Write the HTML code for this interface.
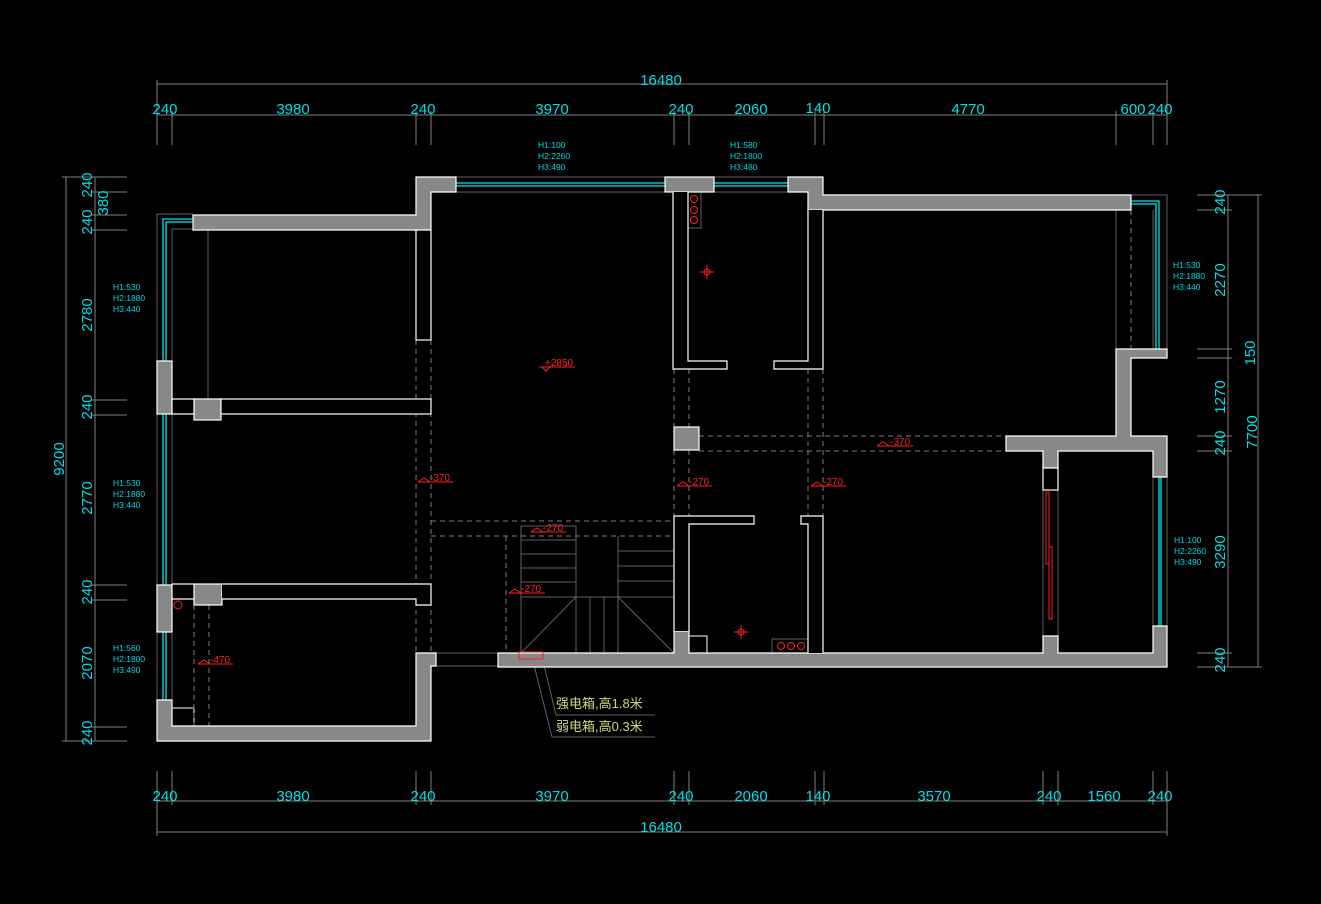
<!DOCTYPE html>
<html><head><meta charset="utf-8"><style>
html,body{margin:0;padding:0;background:#000;}
svg{display:block}
.dim{font-family:"Liberation Sans",sans-serif;font-size:15px;fill:#00e0e8}
.h{font-family:"Liberation Sans",sans-serif;font-size:8.5px;fill:#00d8e0}
.r{font-family:"Liberation Sans",sans-serif;font-size:10px;fill:#ff2020}
.cn{font-family:"Liberation Sans","Noto Sans CJK SC",sans-serif;font-size:13px;fill:#c8dc78}
</style></head><body>
<svg width="1321" height="904" viewBox="0 0 1321 904" xmlns="http://www.w3.org/2000/svg">
<rect width="1321" height="904" fill="#000"/>
<!-- TOP DIMENSIONS -->
<g stroke="#808080" stroke-width="1" fill="none">
<line x1="157" y1="84" x2="1167" y2="84"/>
<line x1="157" y1="115" x2="1167" y2="115"/>
<line x1="157" y1="80" x2="157" y2="145"/><line x1="1167" y1="80" x2="1167" y2="145"/>
<line x1="172" y1="111" x2="172" y2="145"/><line x1="416" y1="111" x2="416" y2="145"/><line x1="431" y1="111" x2="431" y2="145"/>
<line x1="674" y1="111" x2="674" y2="145"/><line x1="689" y1="111" x2="689" y2="145"/><line x1="815" y1="111" x2="815" y2="145"/>
<line x1="824" y1="111" x2="824" y2="145"/><line x1="1116" y1="111" x2="1116" y2="145"/><line x1="1153" y1="111" x2="1153" y2="145"/>
<!-- bottom -->
<line x1="157" y1="801" x2="1167" y2="801"/>
<line x1="157" y1="832" x2="1167" y2="832"/>
<line x1="157" y1="771" x2="157" y2="836"/><line x1="1167" y1="771" x2="1167" y2="836"/>
<line x1="172" y1="771" x2="172" y2="805"/><line x1="416" y1="771" x2="416" y2="805"/><line x1="431" y1="771" x2="431" y2="805"/>
<line x1="674" y1="771" x2="674" y2="805"/><line x1="689" y1="771" x2="689" y2="805"/><line x1="815" y1="771" x2="815" y2="805"/>
<line x1="824" y1="771" x2="824" y2="805"/><line x1="1043" y1="771" x2="1043" y2="805"/><line x1="1058" y1="771" x2="1058" y2="805"/>
<line x1="1153" y1="771" x2="1153" y2="805"/>
<!-- left -->
<line x1="95" y1="177" x2="95" y2="741"/>
<line x1="66" y1="177" x2="66" y2="741"/>
<line x1="62" y1="177" x2="127" y2="177"/><line x1="62" y1="741" x2="127" y2="741"/>
<line x1="91" y1="192" x2="127" y2="192"/><line x1="91" y1="215" x2="127" y2="215"/><line x1="91" y1="230" x2="127" y2="230"/>
<line x1="91" y1="400" x2="127" y2="400"/><line x1="91" y1="415" x2="127" y2="415"/><line x1="91" y1="585" x2="127" y2="585"/>
<line x1="91" y1="600" x2="127" y2="600"/><line x1="91" y1="727" x2="127" y2="727"/>
<!-- right -->
<line x1="1228" y1="195" x2="1228" y2="667"/>
<line x1="1258" y1="195" x2="1258" y2="667"/>
<line x1="1197" y1="195" x2="1262" y2="195"/><line x1="1197" y1="667" x2="1262" y2="667"/>
<line x1="1197" y1="210" x2="1232" y2="210"/><line x1="1197" y1="349" x2="1232" y2="349"/><line x1="1197" y1="358" x2="1232" y2="358"/>
<line x1="1197" y1="436" x2="1232" y2="436"/><line x1="1197" y1="451" x2="1232" y2="451"/><line x1="1197" y1="653" x2="1232" y2="653"/>
</g>
<g class="dim" text-anchor="middle">
<text x="661" y="85">16480</text>
<text x="165" y="114">240</text><text x="293" y="114">3980</text><text x="423" y="114">240</text><text x="552" y="114">3970</text>
<text x="681" y="114">240</text><text x="751" y="114">2060</text><text x="818" y="113">140</text><text x="968" y="114">4770</text>
<text x="1133" y="114">600</text><text x="1160" y="114">240</text>
<text x="165" y="801">240</text><text x="293" y="801">3980</text><text x="423" y="801">240</text><text x="552" y="801">3970</text>
<text x="681" y="801">240</text><text x="751" y="801">2060</text><text x="818" y="801">140</text><text x="934" y="801">3570</text>
<text x="1049" y="801">240</text><text x="1104" y="801">1560</text><text x="1160" y="801">240</text>
<text x="661" y="832">16480</text>
<text transform="translate(92,185) rotate(-90)">240</text>
<text transform="translate(108,203) rotate(-90)">380</text>
<text transform="translate(92,222) rotate(-90)">240</text>
<text transform="translate(92,315) rotate(-90)">2780</text>
<text transform="translate(92,407) rotate(-90)">240</text>
<text transform="translate(92,498) rotate(-90)">2770</text>
<text transform="translate(92,592) rotate(-90)">240</text>
<text transform="translate(92,663) rotate(-90)">2070</text>
<text transform="translate(92,733) rotate(-90)">240</text>
<text transform="translate(64,459) rotate(-90)">9200</text>
<text transform="translate(1225,202) rotate(-90)">240</text>
<text transform="translate(1225,280) rotate(-90)">2270</text>
<text transform="translate(1255,353) rotate(-90)">150</text>
<text transform="translate(1225,397) rotate(-90)">1270</text>
<text transform="translate(1225,443) rotate(-90)">240</text>
<text transform="translate(1257,432) rotate(-90)">7700</text>
<text transform="translate(1225,552) rotate(-90)">3290</text>
<text transform="translate(1225,660) rotate(-90)">240</text>
</g>
<!-- H labels -->
<g class="h">
<text x="538" y="148">H1:100</text><text x="538" y="159">H2:2260</text><text x="538" y="170">H3:490</text>
<text x="730" y="148">H1:580</text><text x="730" y="159">H2:1800</text><text x="730" y="170">H3:480</text>
<text x="113" y="290">H1:530</text><text x="113" y="301">H2:1880</text><text x="113" y="312">H3:440</text>
<text x="113" y="486">H1:530</text><text x="113" y="497">H2:1880</text><text x="113" y="508">H3:440</text>
<text x="113" y="651">H1:560</text><text x="113" y="662">H2:1800</text><text x="113" y="673">H3:490</text>
<text x="1173" y="268">H1:530</text><text x="1173" y="279">H2:1880</text><text x="1173" y="290">H3:440</text>
<text x="1174" y="543">H1:100</text><text x="1174" y="554">H2:2260</text><text x="1174" y="565">H3:490</text>
</g>
<!-- thin gray frame lines -->
<g stroke="#606060" stroke-width="1" fill="none">
<polyline points="193,214 157,214 157,741"/>
<polyline points="193,229 172,229 172,741"/>
<line x1="208" y1="230" x2="208" y2="399"/>
<line x1="456" y1="177" x2="665" y2="177"/><line x1="456" y1="192" x2="665" y2="192"/>
<line x1="714" y1="177" x2="788" y2="177"/><line x1="714" y1="192" x2="788" y2="192"/>
<polyline points="1131,195 1167,195 1167,349"/>
<polyline points="1116,210 1116,349"/><line x1="1153" y1="210" x2="1153" y2="349"/>
<line x1="1153" y1="477" x2="1153" y2="626"/><line x1="1167" y1="477" x2="1167" y2="626"/>
<line x1="1043" y1="490" x2="1043" y2="636"/><line x1="1058" y1="490" x2="1058" y2="636"/>
<line x1="436" y1="653" x2="498" y2="653"/><line x1="436" y1="666" x2="498" y2="666"/>
<rect x="687" y="192" width="14" height="36"/>
<rect x="772" y="639" width="36" height="14"/>
<rect x="172" y="708" width="22" height="18" stroke="#fff"/>
<rect x="689" y="636" width="18" height="17" stroke="#fff"/>
<!-- stairs -->
<rect x="521" y="526" width="55" height="127"/>
<line x1="521" y1="540" x2="576" y2="540"/><line x1="521" y1="554" x2="576" y2="554"/><line x1="521" y1="568" x2="576" y2="568"/><line x1="521" y1="582" x2="576" y2="582"/>
<line x1="521" y1="597" x2="674" y2="597"/>
<line x1="618" y1="536" x2="618" y2="653"/>
<line x1="618" y1="551" x2="674" y2="551"/><line x1="618" y1="566" x2="674" y2="566"/><line x1="618" y1="581" x2="674" y2="581"/>
<line x1="590" y1="597" x2="590" y2="653"/><line x1="604" y1="597" x2="604" y2="653"/>
<line x1="521" y1="653" x2="576" y2="597"/><line x1="618" y1="597" x2="674" y2="653"/>
<line x1="0" y1="0" x2="0" y2="0"/>
<polyline points="543,661 556,715 655,715"/><polyline points="533,661 552,737 655,737"/>
</g>
<!-- cyan windows -->
<g stroke="#00e8f0" stroke-width="1.3" fill="none">
<polyline points="193,219 163,219 163,361"/><polyline points="193,222 166,222 166,361"/>
<line x1="163" y1="414" x2="163" y2="585"/><line x1="166" y1="414" x2="166" y2="585"/>
<line x1="163" y1="632" x2="163" y2="700"/><line x1="166" y1="632" x2="166" y2="700"/>
<line x1="456" y1="183" x2="665" y2="183"/><line x1="456" y1="186" x2="665" y2="186"/>
<line x1="714" y1="183" x2="788" y2="183"/><line x1="714" y1="186" x2="788" y2="186"/>
<polyline points="1131,201 1159,201 1159,349"/><polyline points="1131,204 1156,204 1156,349"/>
<line x1="1159" y1="477" x2="1159" y2="626"/><line x1="1161" y1="477" x2="1161" y2="626"/>
</g>
<!-- dashed -->
<g stroke="#808080" stroke-width="1" stroke-dasharray="5,4" fill="none">
<line x1="416" y1="340" x2="416" y2="653"/><line x1="431" y1="340" x2="431" y2="653"/>
<line x1="431" y1="521" x2="674" y2="521"/><line x1="431" y1="536" x2="674" y2="536"/>
<line x1="674" y1="369" x2="674" y2="516"/><line x1="689" y1="369" x2="689" y2="516"/>
<line x1="808" y1="369" x2="808" y2="653"/><line x1="823" y1="369" x2="823" y2="653"/>
<line x1="699" y1="436" x2="1006" y2="436"/><line x1="699" y1="451" x2="1006" y2="451"/>
<line x1="194" y1="605" x2="194" y2="726"/><line x1="209" y1="605" x2="209" y2="726"/>
<line x1="1131" y1="210" x2="1131" y2="349"/>
<line x1="506" y1="536" x2="506" y2="653"/>
</g>
<!-- walls -->
<g fill="#888" stroke="#fff" stroke-width="1.2">
<polygon points="193,215 416,215 416,177 456,177 456,192 431,192 431,230 193,230"/>
<rect x="157" y="361" width="15" height="53"/>
<rect x="157" y="585" width="15" height="47"/>
<polygon points="157,700 172,700 172,726 416,726 416,653 436,653 436,666 431,666 431,741 157,741"/>
<rect x="194" y="399" width="27" height="21"/>
<rect x="194" y="584" width="28" height="21"/>
<rect x="665" y="177" width="49" height="15"/>
<polygon points="788,177 823,177 823,195 1131,195 1131,210 808,210 808,192 788,192"/>
<polygon points="1116,349 1167,349 1167,358 1131,358 1131,436 1167,436 1167,477 1153,477 1153,451 1058,451 1058,468 1043,468 1043,451 1006,451 1006,436 1116,436"/>
<polygon points="498,653 674,653 674,631 689,631 689,653 1043,653 1043,636 1058,636 1058,653 1153,653 1153,626 1167,626 1167,667 498,667"/>
<rect x="674" y="427" width="25" height="23"/>
</g>
<!-- white-outline partitions -->
<g fill="#000" stroke="#fff" stroke-width="1.2">
<rect x="416" y="230" width="15" height="110"/>
<rect x="172" y="399" width="22" height="15"/><rect x="221" y="399" width="210" height="15"/>
<rect x="172" y="584" width="22" height="15"/><polyline points="222,584 431,584 431,605 416,605 416,599 222,599"/>
<polyline points="673,192 673,369 727,369 727,361 688,361 688,192"/>
<polyline points="823,210 823,369 774,369 774,361 808,361 808,210"/>
<polyline points="674,631 674,516 754,516 754,524 689,524 689,631"/>
<polyline points="808,653 808,524 801,524 801,516 823,516 823,653"/>
<rect x="1043" y="468" width="15" height="22"/>
</g>
<!-- red items -->
<g stroke="#ff2020" stroke-width="1" fill="none">
<circle cx="694" cy="199" r="3.5"/><circle cx="694" cy="210" r="3.5"/><circle cx="694" cy="220" r="3.5"/>
<circle cx="781" cy="646" r="3.5"/><circle cx="791" cy="646" r="3.5"/><circle cx="801" cy="646" r="3.5"/>
<circle cx="178" cy="605" r="4"/>
<circle cx="707" cy="272" r="3"/><line x1="700" y1="272" x2="714" y2="272"/><line x1="707" y1="265" x2="707" y2="279"/>
<circle cx="741" cy="632" r="3"/><line x1="734" y1="632" x2="748" y2="632"/><line x1="741" y1="625" x2="741" y2="639"/>
<rect x="1046" y="492" width="3" height="72"/><rect x="1049" y="547" width="3" height="72"/>
<rect x="519" y="652" width="24" height="7"/>
<line x1="539" y1="367" x2="575" y2="367"/><polyline points="542,367 546,371 550,367"/>
<line x1="418" y1="482" x2="453" y2="482"/><polyline points="418,482 424,478 430,482"/>
<line x1="677" y1="486" x2="712" y2="486"/><polyline points="677,486 683,482 689,486"/>
<line x1="811" y1="486" x2="846" y2="486"/><polyline points="811,486 817,482 823,486"/>
<line x1="877" y1="446" x2="913" y2="446"/><polyline points="877,446 883,442 889,446"/>
<line x1="531" y1="532" x2="566" y2="532"/><polyline points="531,532 537,528 543,532"/>
<line x1="509" y1="593" x2="545" y2="593"/><polyline points="509,593 515,589 521,593"/>
<line x1="198" y1="664" x2="233" y2="664"/><polyline points="198,664 204,660 210,664"/>
</g>
<g class="r">
<text x="545" y="366">+2850</text>
<text x="430" y="481">-370</text>
<text x="689" y="485">-270</text>
<text x="823" y="485">-270</text>
<text x="890" y="445">-370</text>
<text x="543" y="531">-270</text>
<text x="521" y="592">-270</text>
<text x="210" y="663">-470</text>
</g>
<g class="cn">
<text x="556" y="708">强电箱,高1.8米</text>
<text x="556" y="731">弱电箱,高0.3米</text>
</g>
</svg>
</body></html>
